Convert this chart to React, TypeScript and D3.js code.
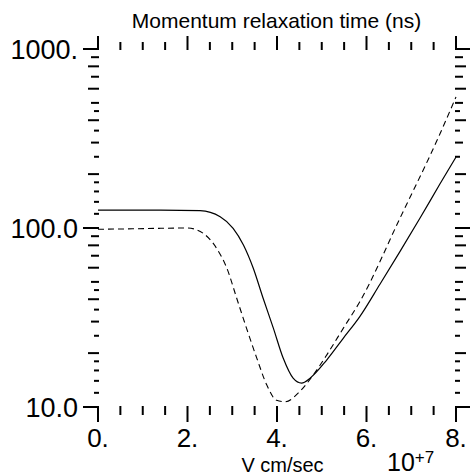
import * as d3 from 'd3';

// x in units of 10^7 cm/sec, y in ns
const solidX = [0, 0.7, 1.4, 2.28, 2.73, 3.02, 3.25, 3.47, 3.69, 3.92, 4.14, 4.36, 4.55, 4.74, 5.11, 5.48, 5.85, 6.3, 6.75, 7.2, 7.64, 8];
const solidY = [126, 126, 126, 125, 115.6, 99.6, 80.4, 59.6, 40.5, 27.5, 18.7, 14.5, 13.6, 14.5, 18.3, 24.2, 32, 48.5, 74, 114, 176, 249];

const dashX = [0, 0.8, 1.4, 2.0, 2.35, 2.65, 2.88, 3.1, 3.32, 3.55, 3.77, 3.99, 4.18, 4.51, 4.81, 5.11, 5.48, 5.85, 6.75, 7.64, 8];
const dashY = [98.4, 99, 99.6, 100, 93.4, 77.0, 59.6, 40.5, 27.5, 18.7, 13.3, 10.9, 10.7, 12.2, 15.1, 19.5, 27.5, 38.7, 113.7, 335, 540];

const xTickLabels = ['0.', '2.', '4.', '6.', '8.'];
const xLabelValues = [0, 2, 4, 6, 8];
const yTickLabels = ['10.0', '100.0', '1000.'];
const yLabelValues = [10, 100, 1000];
const mantissas = [1, 1.2, 1.4, 1.6, 1.8, 2, 2.5, 3, 3.5, 4, 4.5, 5, 6, 7, 8, 9];

const W = 470;
const H = 476;
const FONT = '"Liberation Sans", Arial, Helvetica, sans-serif';

const App = () => {
  const x = d3.scaleLinear().domain([0, 8]).range([98, 456]);
  const y = d3.scaleLog().domain([10, 1000]).range([407, 49]);

  const line = d3
    .line<[number, number]>()
    .x((d) => x(d[0]))
    .y((d) => y(d[1]))
    .curve(d3.curveMonotoneX);

  const solidPath = line(solidX.map((v, i) => [v, solidY[i]]) as [number, number][]) || '';
  const dashPath = line(dashX.map((v, i) => [v, dashY[i]]) as [number, number][]) || '';

  // x ticks every 0.5
  const xTicks = d3.range(0, 8.001, 0.5);
  // y ticks: 1,1.2,...,9 per decade plus top
  const yTicks: { v: number; len: number }[] = [];
  [10, 100].forEach((dec) => {
    mantissas.forEach((m) => {
      let len = 4;
      if (m === 1) len = 15;
      else if (m === 2 || m === 4 || m === 6 || m === 8) len = 10;
      else if (m === 3 || m === 5 || m === 7 || m === 9) len = 7;
      yTicks.push({ v: m * dec, len });
    });
  });
  yTicks.push({ v: 1000, len: 15 });

  const isMajorX = (v: number) => Math.abs(v % 2) < 1e-6;

  return (
    <svg
      width={W}
      height={H}
      style={{ position: 'absolute', left: 0, top: 0, background: '#fff' }}
      fontFamily={FONT}
    >
      <rect width={W} height={H} fill='#fff' />

      {/* top and bottom ticks */}
      {xTicks.map((v) => (
        <g key={'xt' + v} stroke='#000' strokeWidth={2}>
          <line x1={x(v)} x2={x(v)} y1={y(1000) + 1} y2={y(1000) - (isMajorX(v) ? 13 : 7)} />
          <line x1={x(v)} x2={x(v)} y1={y(10) - 1} y2={y(10) + (isMajorX(v) ? 15 : 8)} />
        </g>
      ))}

      {/* left and right ticks */}
      {yTicks.map((t) => (
        <g key={'yt' + t.v} stroke='#000' strokeWidth={2}>
          <line x1={x(0) + 1} x2={x(0) - t.len} y1={y(t.v)} y2={y(t.v)} />
          <line x1={x(8) - 1} x2={x(8) + t.len} y1={y(t.v)} y2={y(t.v)} />
        </g>
      ))}

      {/* y labels */}
      {yLabelValues.map((v, i) => (
        <text key={'yl' + v} x={78} y={y(v) + 9.5} textAnchor='end' fontSize={27} fill='#000'>
          {yTickLabels[i]}
        </text>
      ))}

      {/* x labels */}
      {xLabelValues.map((v, i) => (
        <text key={'xl' + v} x={x(v)} y={447} textAnchor='middle' fontSize={26} fill='#000'>
          {xTickLabels[i]}
        </text>
      ))}

      {/* curves */}
      <path d={solidPath} fill='none' stroke='#000' strokeWidth={1.2} />
      <path d={dashPath} fill='none' stroke='#000' strokeWidth={1.1} strokeDasharray='6,4' />

      {/* titles */}
      <text x={276.5} y={28} textAnchor='middle' fontSize={21} fill='#000'>
        Momentum relaxation time (ns)
      </text>
      <text x={282.5} y={472} textAnchor='middle' fontSize={20} fill='#000'>
        V cm/sec
      </text>
      <text x={387} y={471} fontSize={25} fill='#000'>
        10
        <tspan fontSize={17} dy={-8}>
          +7
        </tspan>
      </text>
    </svg>
  );
};

export default App;
